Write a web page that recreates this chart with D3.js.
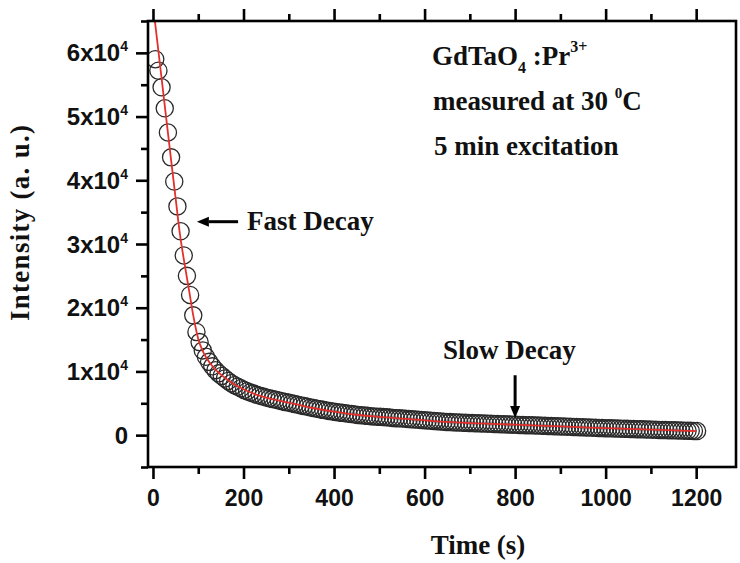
<!DOCTYPE html>
<html>
<head>
<meta charset="utf-8">
<script src="https://cdn.jsdelivr.net/npm/d3@7"></script>
<style>
  html, body { margin: 0; padding: 0; background: #fff; }
  svg { display: block; }
</style>
</head>
<body>
<svg id="chart" width="740" height="563"></svg>
<script>
// Afterglow decay of GdTaO4:Pr3+ — measured points (s, a.u.)
const times = [5,12,19,26,33,40,47,54,61,68,75,82,89,96,103,110,117,124,131,138,145,152,159,166,173,180,187,194,201,208,215,222,229,236,243,250,257,264,271,278,285,292,299,306,313,320,327,334,341,348,355,362,369,376,383,390,397,404,411,418,425,432,439,446,453,460,467,474,481,488,495,502,509,516,523,530,537,544,551,558,565,572,579,586,593,600,607,614,621,628,635,642,649,656,663,670,677,684,691,698,705,712,719,726,733,740,747,754,761,768,775,782,789,796,803,810,817,824,831,838,845,852,859,866,873,880,887,894,901,908,915,922,929,936,943,950,957,964,971,978,985,992,999,1006,1013,1020,1027,1034,1041,1048,1055,1062,1069,1076,1083,1090,1097,1104,1111,1118,1125,1132,1139,1146,1153,1160,1167,1174,1181,1188,1195,1202];
const intensity = [59000,57200,54600,51300,47500,43600,39800,35900,32000,28200,
  25000,22000,18800,16200,14600,13300,12300,11500,10800,10200,
  9700,9300,8900,8500,8150,7850,7600,7350,7100,6900,
  6700,6520,6350,6200,6050,5900,5790,5670,5560,5440,
  5330,5220,5110,5000,4890,4780,4670,4560,4450,4340,
  4260,4160,4060,3970,3880,3800,3720,3650,3570,3500,
  3430,3360,3300,3240,3180,3130,3080,3030,2980,2940,
  2900,2870,2830,2790,2750,2710,2670,2640,2600,2560,
  2520,2480,2450,2410,2370,2330,2300,2260,2220,2180,
  2150,2110,2080,2050,2030,2000,1980,1950,1930,1910,
  1890,1870,1850,1840,1820,1800,1780,1760,1740,1720,
  1700,1690,1670,1650,1630,1610,1590,1570,1560,1540,
  1520,1500,1480,1460,1440,1420,1410,1390,1370,1350,
  1330,1310,1290,1270,1250,1230,1210,1190,1170,1160,
  1140,1120,1100,1090,1070,1050,1040,1020,1000,990,
  970,960,940,920,910,890,870,860,840,820,
  810,790,780,760,750,730,720,700,690,670,
  660,640];

// Fitted decay curve
const fitTimes = [0,5,10,20,30,40,50,60,70,80,90,100,110,120,135,150,175,200,225,250,300,350,400,450,500,550,600,650,700,750,800,850,900,950,1000,1050,1100,1150,1200];
const fitIntensity = [67500,64500,61500,55400,49300,43200,37200,31300,26800,22600,18400,15100,13200,11900,10500,9500,8200,7200,6450,5900,5100,4300,3700,3200,2880,2600,2330,2070,1900,1770,1640,1500,1370,1230,1100,990,870,750,640];

// Axis ticks
const xMajorTicks = [0,200,400,600,800,1000,1200];
const xMinorTicks = [100,300,500,700,900,1100];
const yMajorTicks = [0,10000,20000,30000,40000,50000,60000];
const yMinorTicks = [-5000,5000,15000,25000,35000,45000,55000,65000];
const yTickMantissa = ["0","1x10","2x10","3x10","4x10","5x10","6x10"];
const yTickExponent = "4";

// Arrow annotations in data units: [tailTime, tailValue, tipTime, tipValue]
const fastArrow = [188, 33500, 97, 33500];
const slowArrow = [800, 9400, 800, 2700];

const svg = d3.select("#chart");
const plot = { left: 148, right: 736, top: 21, bottom: 467 };

const x = d3.scaleLinear().domain([-11, 1288]).range([plot.left, plot.right]);
const y = d3.scaleLinear().domain([-5000, 65000]).range([plot.bottom, plot.top]);

const sans = "'Liberation Sans', Arial, sans-serif";
const serif = "'Liberation Serif', 'Times New Roman', serif";
const axisStroke = 2.6;

svg.append("defs").append("clipPath").attr("id", "plotClip")
  .append("rect")
  .attr("x", plot.left).attr("y", plot.top)
  .attr("width", plot.right - plot.left).attr("height", plot.bottom - plot.top);

// Data points: open circles
const pts = d3.zip(times, intensity);
svg.append("g")
  .attr("clip-path", "url(#plotClip)")
  .selectAll("circle")
  .data(pts)
  .join("circle")
  .attr("cx", d => x(d[0]))
  .attr("cy", d => y(d[1]))
  .attr("r", 8.6)
  .attr("fill", "none")
  .attr("stroke", "#2a2a2a")
  .attr("stroke-width", 1.3);

// Fit line
const line = d3.line()
  .x(d => x(d[0]))
  .y(d => y(d[1]))
  .curve(d3.curveMonotoneX);
svg.append("path")
  .attr("clip-path", "url(#plotClip)")
  .datum(d3.zip(fitTimes, fitIntensity))
  .attr("d", line)
  .attr("fill", "none")
  .attr("stroke", "#e2302c")
  .attr("stroke-width", 1.8);

// Axes
function styleAxis(g) {
  g.select(".domain").remove();
  g.selectAll(".tick line").attr("stroke", "#000").attr("stroke-width", axisStroke);
}

svg.append("g")
  .attr("transform", `translate(0,${plot.bottom})`)
  .call(d3.axisBottom(x).tickValues(xMajorTicks).tickSize(12).tickSizeOuter(0).tickPadding(11).tickFormat(d3.format("d")))
  .call(styleAxis)
  .call(g => g.selectAll(".tick text")
    .attr("font-family", sans).attr("font-weight", "bold").attr("font-size", 23).attr("fill", "#111"));

svg.append("g")
  .attr("transform", `translate(0,${plot.bottom})`)
  .call(d3.axisBottom(x).tickValues(xMinorTicks).tickSize(7).tickSizeOuter(0).tickFormat(""))
  .call(styleAxis);

svg.append("g")
  .attr("transform", `translate(0,${plot.top})`)
  .call(d3.axisTop(x).tickValues(xMajorTicks).tickSize(12).tickSizeOuter(0).tickFormat(""))
  .call(styleAxis);

svg.append("g")
  .attr("transform", `translate(0,${plot.top})`)
  .call(d3.axisTop(x).tickValues(xMinorTicks).tickSize(7).tickSizeOuter(0).tickFormat(""))
  .call(styleAxis);

svg.append("g")
  .attr("transform", `translate(${plot.left},0)`)
  .call(d3.axisLeft(y).tickValues(yMajorTicks).tickSize(12).tickSizeOuter(0).tickFormat(""))
  .call(styleAxis);

svg.append("g")
  .attr("transform", `translate(${plot.left},0)`)
  .call(d3.axisLeft(y).tickValues(yMinorTicks).tickSize(7).tickSizeOuter(0).tickFormat(""))
  .call(styleAxis);

// Y tick labels with power-of-ten superscript
const yLab = svg.append("g")
  .attr("font-family", sans).attr("font-weight", "bold").attr("fill", "#111")
  .attr("text-anchor", "end");
yMajorTicks.forEach((v, i) => {
  const t = yLab.append("text")
    .attr("x", 128).attr("y", y(v)).attr("dy", "0.36em").attr("font-size", 24);
  t.append("tspan").text(yTickMantissa[i]);
  if (v !== 0) {
    t.append("tspan").attr("font-size", 14).attr("dy", -10).text(yTickExponent);
  }
});

// Frame
svg.append("rect")
  .attr("x", plot.left).attr("y", plot.top)
  .attr("width", plot.right - plot.left).attr("height", plot.bottom - plot.top)
  .attr("fill", "none").attr("stroke", "#000").attr("stroke-width", axisStroke);

// Axis titles
svg.append("text")
  .attr("transform", `translate(29,223) rotate(-90)`)
  .attr("text-anchor", "middle")
  .attr("font-family", serif).attr("font-weight", "bold").attr("font-size", 27)
  .attr("textLength", 196).attr("lengthAdjust", "spacing")
  .attr("fill", "#111")
  .text("Intensity (a. u.)");

svg.append("text")
  .attr("x", 478).attr("y", 554)
  .attr("text-anchor", "middle")
  .attr("font-family", serif).attr("font-weight", "bold").attr("font-size", 27)
  .attr("fill", "#111")
  .text("Time (s)");

// Sample description
const note = svg.append("g")
  .attr("font-family", serif).attr("font-weight", "bold").attr("font-size", 27).attr("fill", "#111");
const l1 = note.append("text").attr("x", 432).attr("y", 65);
l1.append("tspan").text("GdTaO");
l1.append("tspan").attr("font-size", 16).attr("dy", 8).text("4");
l1.append("tspan").attr("dy", -8).text(" :Pr");
l1.append("tspan").attr("font-size", 16).attr("dy", -13).text("3+");

const l2 = note.append("text").attr("x", 433).attr("y", 110);
l2.append("tspan").text("measured at 30 ");
l2.append("tspan").attr("font-size", 15).attr("dy", -12).text("0");
l2.append("tspan").attr("dy", 12).text("C");

note.append("text").attr("x", 434).attr("y", 155).text("5 min excitation");

// Decay-regime annotations
note.append("text").attr("x", 247).attr("y", 230).text("Fast Decay");
note.append("text").attr("x", 443).attr("y", 359).text("Slow Decay");

function arrow(a) {
  const x1 = x(a[0]), y1 = y(a[1]), x2 = x(a[2]), y2 = y(a[3]);
  const ang = Math.atan2(y2 - y1, x2 - x1);
  const head = 12, half = 5;
  const bx = x2 - head * Math.cos(ang), by = y2 - head * Math.sin(ang);
  svg.append("line")
    .attr("x1", x1).attr("y1", y1).attr("x2", bx).attr("y2", by)
    .attr("stroke", "#000").attr("stroke-width", 3);
  svg.append("path")
    .attr("d", `M${x2},${y2}L${bx - half * Math.sin(ang)},${by + half * Math.cos(ang)}L${bx + half * Math.sin(ang)},${by - half * Math.cos(ang)}Z`)
    .attr("fill", "#000");
}
arrow(fastArrow);
arrow(slowArrow);
</script>
</body>
</html>
